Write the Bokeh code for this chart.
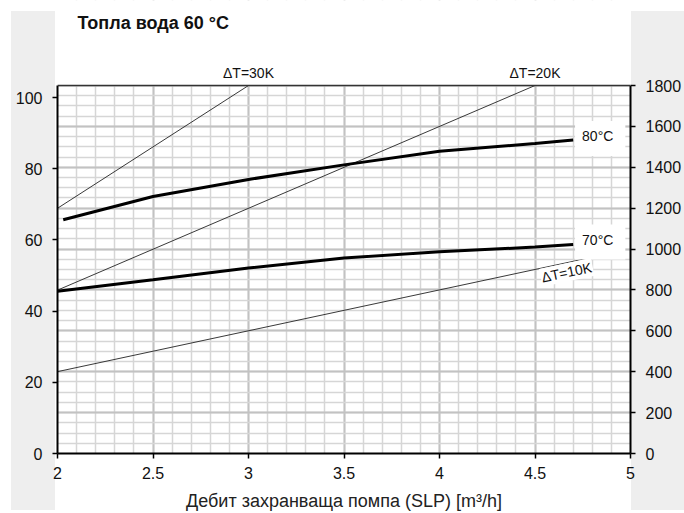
from bokeh.plotting import figure
from bokeh.models import (Range1d, LinearAxis, SingleIntervalTicker, NumeralTickFormatter,
                          Label, BoxAnnotation, Span)
from bokeh.embed import file_html
from bokeh.resources import INLINE

# ---- data ----
flow_80 = [2.03, 2.5, 3.0, 3.5, 4.0, 4.5, 4.7]
power_80 = [65.7, 72.2, 77.0, 81.1, 84.9, 87.1, 88.1]
flow_70 = [2.0, 2.5, 3.0, 3.5, 4.0, 4.5, 4.7]
power_70 = [45.6, 48.8, 52.1, 54.9, 56.7, 58.0, 58.7]
dt30_flow = [2.0, 3.0]
dt30_power = [68.9, 103.4]
dt20_flow = [2.0, 4.5]
dt20_power = [45.9, 103.4]
dt10_flow = [2.0, 4.9]
dt10_power = [23.0, 56.3]

x_range = (2, 5)
left_range = (0, 103.4)
right_range = (0, 1800)

title_text = "Топла вода 60 °C"
x_label = "Дебит захранваща помпа (SLP) [m³/h]"
curve_labels = ["80°C", "70°C"]
dt_labels = ["ΔT=30K", "ΔT=20K", "ΔT=10K"]

FONT = "Liberation Sans"

# layout (pixels)
W, H = 684, 513
B_LEFT, B_RIGHT, B_BOTTOM = 57, 53, 60
CHART_H = 368                  # height of the gridded chart area
FRAME_H = H - B_BOTTOM         # frame extends to the top of the canvas
ext = FRAME_H / CHART_H

p = figure(width=W, height=H, x_range=Range1d(*x_range),
           y_range=Range1d(right_range[0], right_range[1] * ext),
           y_axis_location="right", output_backend="svg", toolbar_location=None,
           min_border_left=B_LEFT, min_border_right=B_RIGHT, min_border_top=0,
           min_border_bottom=B_BOTTOM,
           background_fill_color="white", border_fill_color="white", border_fill_alpha=0,
           outline_line_color=None)

# light gray side bands of the page (CSS background behind the transparent border)
p.styles = {
    "background-color": "white",
    "background-image": "linear-gradient(#eeeeee, #eeeeee), linear-gradient(#eeeeee, #eeeeee)",
    "background-size": "44px 499px, 53px 499px",
    "background-position": "11px 11px, 631px 11px",
    "background-repeat": "no-repeat",
}

right_axis = p.yaxis[0]
right_axis.ticker = SingleIntervalTicker(interval=200, num_minor_ticks=4)
right_axis.bounds = right_range
p.ygrid.ticker = SingleIntervalTicker(interval=200, num_minor_ticks=4)
p.ygrid.bounds = right_range

p.extra_y_ranges = {"kw": Range1d(left_range[0], left_range[1] * ext)}
left_axis = LinearAxis(y_range_name="kw", bounds=left_range,
                       ticker=SingleIntervalTicker(interval=20, num_minor_ticks=0))
p.add_layout(left_axis, "left")

xaxis = p.xaxis[0]
xaxis.ticker = SingleIntervalTicker(interval=0.5, num_minor_ticks=5)
p.xgrid.ticker = SingleIntervalTicker(interval=0.5, num_minor_ticks=5)
xaxis.formatter = NumeralTickFormatter(format="0.[0]")
xaxis.axis_label = x_label
xaxis.axis_label_text_font = FONT
xaxis.axis_label_text_font_size = "18px"
xaxis.axis_label_text_font_style = "normal"
xaxis.axis_label_text_color = "#222222"
xaxis.axis_label_standoff = 9

for ax in (xaxis, right_axis, left_axis):
    ax.axis_line_width = 2
    ax.axis_line_color = "black"
    ax.major_tick_out = 5
    ax.major_tick_in = 0
    ax.major_tick_line_width = 1.5
    ax.minor_tick_line_color = None
    ax.major_label_text_font = FONT
    ax.major_label_text_font_size = "16px"
    ax.major_label_text_color = "#111111"
    ax.major_label_standoff = 8
left_axis.major_label_standoff = 10
right_axis.major_label_standoff = 10

for g in (p.xgrid, p.ygrid):
    g.grid_line_color = "#c2c2c2"
    g.grid_line_width = 2
    g.minor_grid_line_color = "#d6d6d6"
    g.minor_grid_line_width = 1.5

# ΔT lines
for fx, fy in ((dt30_flow, dt30_power), (dt20_flow, dt20_power), (dt10_flow, dt10_power)):
    p.line(fx, fy, y_range_name="kw", line_width=0.9, line_color="#222222")

# temperature curves
p.line(flow_80, power_80, y_range_name="kw", line_width=3, line_color="black")
p.line(flow_70, power_70, y_range_name="kw", line_width=3, line_color="black")

# blank area above the chart (hides grid above the top of the scale)
p.add_layout(BoxAnnotation(bottom=right_range[1], fill_color="white", fill_alpha=1,
                           line_color=None))
# top border of the chart
p.add_layout(Span(location=right_range[1], dimension="width", line_color="#333333",
                  line_width=1.5))

# curve labels with white boxes
for fx, fy, txt, yo in ((flow_80, power_80, curve_labels[0], 1.5), (flow_70, power_70, curve_labels[1], 2.5)):
    p.add_layout(Label(x=fx[-1], y=fy[-1], y_range_name="kw", text=txt, x_offset=27, y_offset=yo,
                       text_align="center", text_baseline="middle", text_font=FONT,
                       text_font_size="14px", text_color="#111111",
                       background_fill_color="white", padding=(7, 12, 7, 12)))

# ΔT labels above the chart
for fx, fy, txt in ((dt30_flow, dt30_power, dt_labels[0]), (dt20_flow, dt20_power, dt_labels[1])):
    p.add_layout(Label(x=fx[-1], y=fy[-1], y_range_name="kw", text=txt, y_offset=5,
                       text_align="center", text_baseline="bottom", text_font=FONT,
                       text_font_size="14px", text_color="#111111"))

p.add_layout(Label(x=4.666, y=50.9, y_range_name="kw", text=dt_labels[2], angle=12, angle_units="deg",
                   text_align="center", text_baseline="middle", text_font=FONT,
                   text_font_size="14px", text_color="#111111",
                   background_fill_color="white", padding=1))

# title
p.add_layout(Label(x=x_range[0], y=left_range[1], y_range_name="kw", text=title_text,
                   x_offset=20, y_offset=73, text_align="left", text_baseline="top",
                   text_font=FONT, text_font_size="18px", text_font_style="bold",
                   text_color="#111111"))

open("out.html", "w").write(file_html(p, INLINE))
